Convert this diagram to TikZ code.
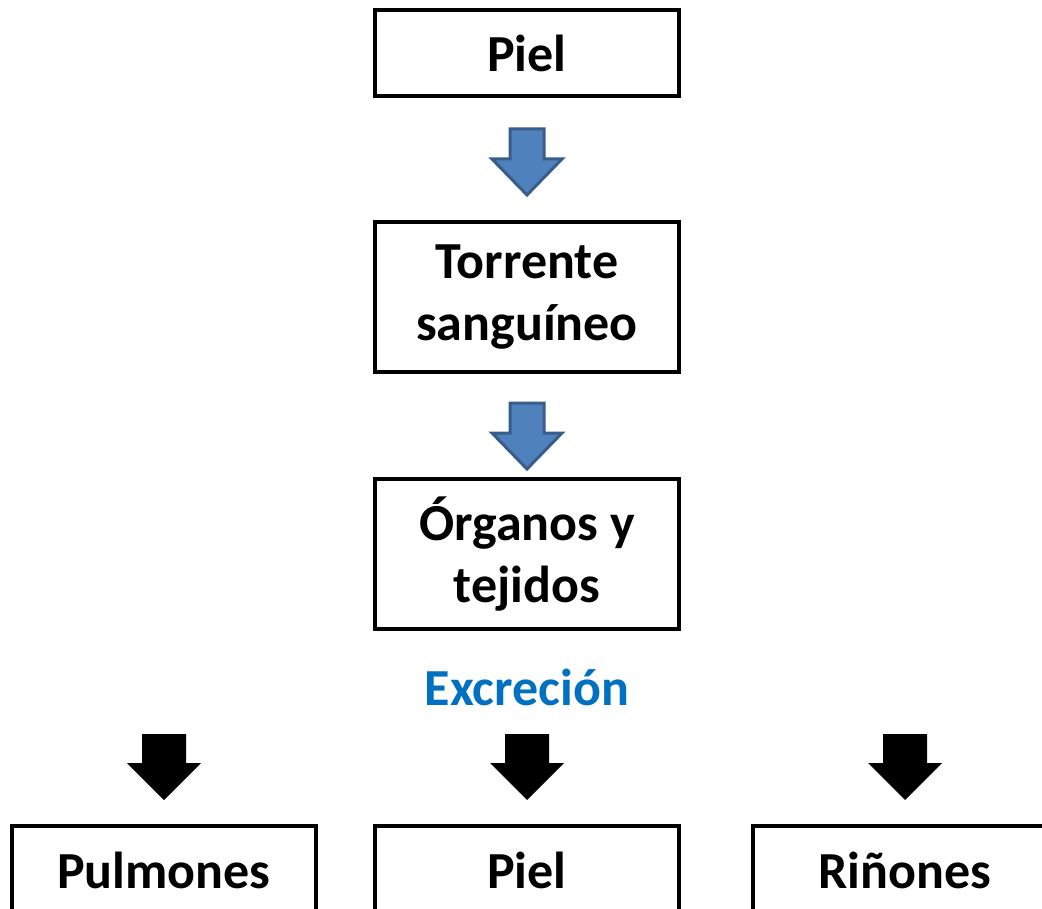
\documentclass[tikz,border=0pt]{standalone}
\usepackage{fontspec}
\setmainfont{Carlito}
\usetikzlibrary{positioning,calc}
\definecolor{flowblue}{HTML}{4F81BD}
\definecolor{flowedge}{HTML}{385D8A}
\definecolor{titleblue}{HTML}{0070C0}
\begin{document}
\begin{tikzpicture}[x=1pt,y=-1pt,
    box/.style={draw,line width=4pt,minimum width=304pt,align=center,
      font=\fontsize{52}{62}\selectfont\bfseries},
    bluearrow/.pic={\filldraw[fill=flowblue,draw=flowedge,line width=3pt]
      (-17,0) -- (17,0) -- (17,30) -- (35,30) -- (0,66) -- (-35,30) -- (-17,30) -- cycle;},
    blackarrow/.pic={\fill[black]
      (-22,0) -- (22,0) -- (22,29) -- (37,29) -- (0,66) -- (-37,29) -- (-22,29) -- cycle;}]

    \path[use as bounding box,clip] (0,0) rectangle (1042,909);

    \node[box,minimum height=86pt] (piel) at (527,53) {Piel};

    \node[box,minimum height=150pt] (torrente) [below=122pt of piel] {Torrente\\sanguíneo};

    \node[box,minimum height=150pt] (organos) [below=103pt of torrente] {Órganos y\\tejidos};

    \node[font=\fontsize{52}{62}\selectfont\bfseries,text=titleblue] (excrecion) [below=34pt of organos] {Excreción};

    \node[box,minimum height=88pt] (pielb) [below=193pt of organos] {Piel};

    \node[box,minimum height=88pt] (pulmones) [left=55pt of pielb] {Pulmones};

    \node[box,minimum height=88pt] (rinones) [right=70pt of pielb] {Riñones};

    % flow between the boxes
    \pic at ($(piel.south)+(0,31)$) {bluearrow};
    \pic at ($(torrente.south)+(0,29)$) {bluearrow};

    \foreach \to in {pulmones, pielb, rinones}
        {
        \pic at ($(\to.north)+(0,-90)$) {blackarrow};
        }

\end{tikzpicture}
\end{document}
